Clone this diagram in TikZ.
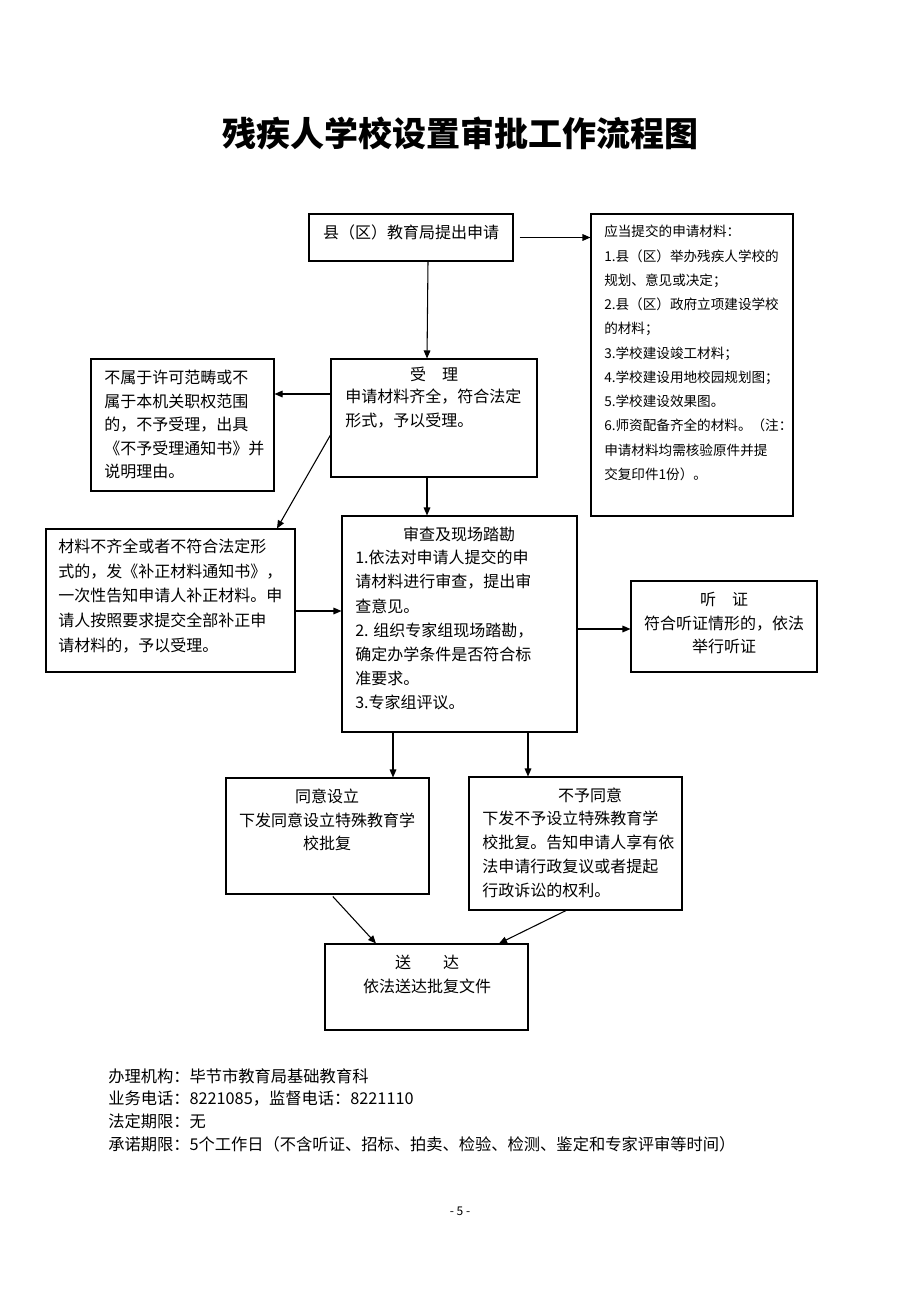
\documentclass[tikz,border=0pt]{standalone}
\usepackage{fontspec}
\setmainfont{Noto Sans CJK SC}
\usetikzlibrary{arrows.meta,fit}
\begin{document}
\begin{tikzpicture}[x=0.75pt,y=-0.75pt,
  box/.style={draw, line width=0.8pt, inner sep=0pt},
  arr/.style={-{Triangle[length=6pt,width=5pt]}, line width=0.8pt},
  txt/.style={inner sep=0pt, font=\fontsize{12}{17.6}\selectfont, align=left},
  ctxt/.style={inner sep=0pt, font=\fontsize{12}{17.6}\selectfont, align=center},
  small/.style={inner sep=0pt, font=\fontsize{10.2}{18.2}\selectfont, align=left},
  foot/.style={inner sep=0pt, font=\fontsize{12.2}{17}\selectfont, align=left}]
\fill[white] (0,0) rectangle (920,1302);
\useasboundingbox (0,0) rectangle (920,1302);

% title
\node[inner sep=0pt, font=\fontsize{25.5}{30}\selectfont\bfseries] (title) at (460,133) {残疾人学校设置审批工作流程图};

% boxes
\node[box, fit={(309,214)(513,261)}] (b1) {};
\node[box, fit={(591,214)(793,516)}] (mat) {};
\node[box, fit={(331,359)(537,477)}] (sl) {};
\node[box, fit={(91,359)(274,491)}] (no) {};
\node[box, fit={(46,529)(295,672)}] (bq) {};
\node[box, fit={(342,516)(577,732)}] (sc) {};
\node[box, fit={(631,581)(817,672)}] (tz) {};
\node[box, fit={(226,778)(429,894)}] (ty) {};
\node[box, fit={(469,777)(682,910)}] (by) {};
\node[box, fit={(325,944)(528,1030)}] (sd) {};

% texts
\node[ctxt, anchor=north] (t1) at (411,225) {县（区）教育局提出申请};
\node[small, anchor=north west] (tmat) at (604,225) {应当提交的申请材料：\\1.县（区）举办残疾人学校的\\规划、意见或决定；\\2.县（区）政府立项建设学校\\的材料；\\3.学校建设竣工材料；\\4.学校建设用地校园规划图；\\5.学校建设效果图。\\6.师资配备齐全的材料。（注：\\申请材料均需核验原件并提\\交复印件1份）。};
\node[ctxt, anchor=north] (tsl1) at (434,367) {受\quad 理};
\node[txt, anchor=north west] (tsl2) at (345,389) {申请材料齐全，符合法定\\形式，予以受理。};
\node[txt, anchor=north west] (tno) at (104,370) {不属于许可范畴或不\\属于本机关职权范围\\的，不予受理，出具\\《不予受理通知书》并\\说明理由。};
\node[txt, anchor=north west, font=\fontsize{12}{18.4}\selectfont] (tbq) at (58,539) {材料不齐全或者不符合法定形\\式的，发《补正材料通知书》，\\一次性告知申请人补正材料。申\\请人按照要求提交全部补正申\\请材料的，予以受理。};
\node[ctxt, anchor=north] (tsc1) at (459,527) {审查及现场踏勘};
\node[txt, anchor=north west, font=\fontsize{12}{18.1}\selectfont] (tsc2) at (355,550) {1.依法对申请人提交的申\\请材料进行审查，提出审\\查意见。\\2. 组织专家组现场踏勘，\\确定办学条件是否符合标\\准要求。\\3.专家组评议。};
\node[ctxt, anchor=north] (ttz) at (724,592) {听\quad 证\\符合听证情形的，依法\\举行听证};
\node[ctxt, anchor=north] (tty) at (327,789) {同意设立\\下发同意设立特殊教育学\\校批复};
\node[ctxt, anchor=north] (tby1) at (590,788) {不予同意};
\node[txt, anchor=north west, font=\fontsize{12}{18}\selectfont] (tby2) at (482,811) {下发不予设立特殊教育学\\校批复。告知申请人享有依\\法申请行政复议或者提起\\行政诉讼的权利。};
\node[ctxt, anchor=north] (tsd) at (427,955) {送\qquad 达\\依法送达批复文件};

% footer
\node[foot, anchor=north west] (ft) at (108,1068) {办理机构：毕节市教育局基础教育科\\业务电话：8221085，监督电话：8221110\\法定期限：无\\承诺期限：5个工作日（不含听证、招标、拍卖、检验、检测、鉴定和专家评审等时间）};
\node[inner sep=0pt, font=\fontsize{9}{11}\selectfont] (pg) at (460,1211) {- 5 -};

% arrows
\draw[arr, shorten <=4.5pt] (b1.east) -- (b1.east -| mat.west);
\draw[arr] (b1.south -| 428,0) -- (sl.north -| 427,0);
\draw[arr] (sl.west |- 0,394) -- (no.east |- 0,394);
\draw[arr] (sl.west |- 0,435) -- (bq.north -| 277,0);
\draw[arr] (sl.south -| 427,0) -- (sc.north -| 427,0);
\draw[arr] (bq.east |- 0,611) -- (sc.west |- 0,611);
\draw[arr] (sc.east |- 0,629) -- (tz.west |- 0,629);
\draw[arr] (sc.south -| 393,0) -- (ty.north -| 393,0);
\draw[arr] (sc.south -| 528,0) -- (by.north -| 528,0);
\draw[arr, shorten <=2pt] (ty.south -| 331,0) -- (sd.north -| 376,0);
\draw[arr] (by.south -| 566,0) -- (sd.north -| 499,0);
\end{tikzpicture}
\end{document}
